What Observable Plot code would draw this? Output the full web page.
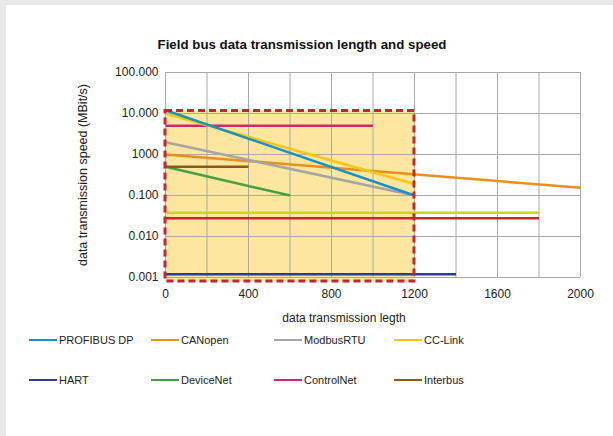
<!DOCTYPE html>
<html><head><meta charset="utf-8">
<script src="https://cdn.jsdelivr.net/npm/d3@7"></script>
<script src="https://cdn.jsdelivr.net/npm/@observablehq/plot@0.6"></script>
<style>
html,body{margin:0;padding:0;background:#e8e8e8;width:613px;height:436px;overflow:hidden;font-family:"Liberation Sans",Arial,sans-serif;}
#panel{position:absolute;left:6px;top:5px;width:607px;height:431px;background:#fff;}
#title{position:absolute;left:0;width:592px;top:32px;text-align:center;font-weight:bold;font-size:13.3px;color:#111;}
#chart{position:absolute;left:0;top:55px;}
.ytitle{position:absolute;left:77px;top:170px;transform:translate(-50%,-50%) rotate(-90deg);font-size:12.5px;color:#222;white-space:nowrap;}
.xtitle{position:absolute;left:338px;top:306px;transform:translateX(-50%);font-size:12px;color:#222;white-space:nowrap;}
.leg{position:absolute;font-size:11px;color:#222;white-space:nowrap;display:flex;align-items:center;}
.leg i{display:inline-block;width:28px;height:2.5px;margin-right:2px;}
</style></head><body>
<div id="panel">
  <div id="title">Field bus data transmission length and speed</div>
  <div id="chart"></div>
  <div class="ytitle">data transmission speed (MBit/s)</div>
  <div class="xtitle">data transmission legth</div>
  <div id="legend"></div>
</div>
<script>
// Series data
const series = ["PROFIBUS DP","CANopen","ModbusRTU","CC-Link","HART","DeviceNet","ControlNet","Interbus"];
const colors = ["#1b8ec8","#e8901a","#a5a5a5","#f5c518","#2f3d8a","#46a040","#d4246f","#8b5a1a"];
const startLength = [0,0,0,0,0,0,0,0];
const endLength   = [1200,2000,1200,1200,1400,600,1000,400];
const startSpeed  = [12,1,2,10,0.0012,0.5,5,0.5];
const endSpeed    = [0.1,0.155,0.1,0.19,0.0012,0.1,5,0.5];
// Unlabelled lines (not in legend)
const extraNames = ["extra 1","extra 2"];
const extraColors = ["#c8d62a","#c9252c"];
const extraEnd = [1800,1800];
const extraSpeed = [0.038,0.028];
// Highlight region
const boxLength = [0,1200];
const boxSpeed = [0.0008,11.5];
// Axes
const xTicks = [0,400,800,1200,1600,2000];
const xGrid = [0,200,400,600,800,1000,1200,1400,1600,1800,2000];
const yTicks = [0.001,0.01,0.1,1,10,100];
const yTickLabels = ["0.001","0.010","0.100","1000","10.000","100.000"];

const rows = series.map((s,i)=>({name:s,color:colors[i],x1:startLength[i],x2:endLength[i],y1:startSpeed[i],y2:endSpeed[i]}));
const extraRows = extraNames.map((s,i)=>({name:s,color:extraColors[i],x1:0,x2:extraEnd[i],y1:extraSpeed[i],y2:extraSpeed[i]}));
const drawOrder = [...extraRows, rows[4], rows[1], rows[2], rows[5], rows[7], rows[6], rows[3], rows[0]];
const box = [{x1:boxLength[0],x2:boxLength[1],y1:boxSpeed[0],y2:boxSpeed[1]}];

const chart = Plot.plot({
  width:607, height:250,
  marginLeft:159, marginRight:33, marginTop:12, marginBottom:33,
  style:{fontFamily:"Liberation Sans, Arial, sans-serif", fontSize:"12px", color:"#222", background:"transparent"},
  x:{domain:[0,2000], label:null},
  y:{type:"log", domain:[0.001,100], label:null},
  marks:[
    Plot.rect(box,{x1:"x1",x2:"x2",y1:"y1",y2:"y2",fill:"#fde7a0"}),
    Plot.ruleX(xGrid,{stroke:"#a8a8a8",strokeWidth:1}),
    Plot.ruleY(yTicks,{stroke:"#a8a8a8",strokeWidth:1}),
    Plot.link(drawOrder,{x1:"x1",x2:"x2",y1:"y1",y2:"y2",stroke:"color",strokeWidth:2.5}),
    Plot.rect(box,{x1:"x1",x2:"x2",y1:"y1",y2:"y2",fill:"none",stroke:"#c1272d",strokeWidth:3,strokeDasharray:"7,4"}),
    Plot.axisX(xTicks,{tickSize:0,tickPadding:12,fontSize:12,label:null,tickFormat:d=>String(d)}),
    Plot.axisY(yTicks,{tickSize:0,tickPadding:7,fontSize:12,label:null,tickFormat:d=>yTickLabels[yTicks.indexOf(d)]})
  ]
});
document.getElementById("chart").append(chart);

// Legend
const legX = [23,145,268,388];
const legY = [329,369];
const legend = document.getElementById("legend");
series.forEach((s,i)=>{
  const el = document.createElement("div");
  el.className="leg";
  el.style.left = legX[i%4]+"px";
  el.style.top = legY[Math.floor(i/4)]+"px";
  el.innerHTML = `<i style="background:${colors[i]}"></i>${s}`;
  legend.append(el);
});
</script>
</body></html>
